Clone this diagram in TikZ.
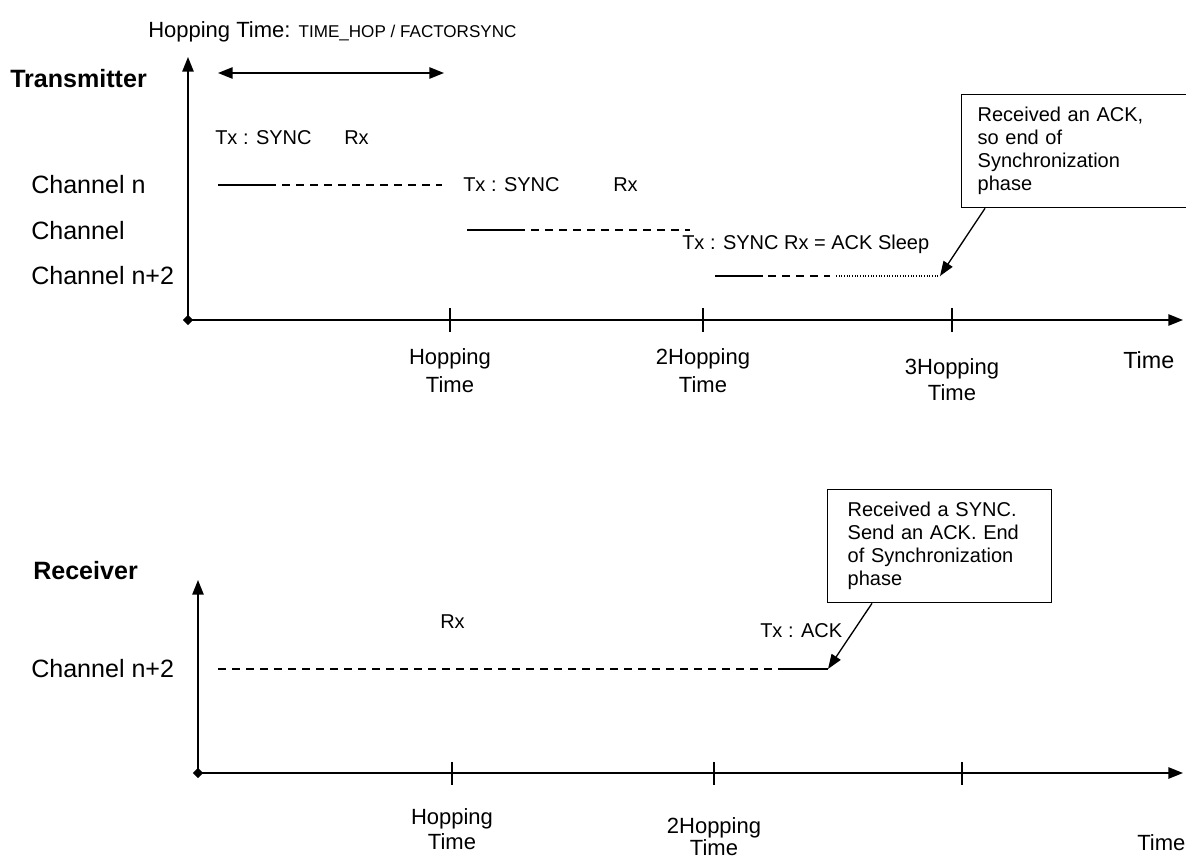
\documentclass[tikz,border=0pt]{standalone}
\usepackage{fontspec}
\setmainfont{Liberation Sans}
\usetikzlibrary{arrows.meta,shapes.geometric,calc}
\newcommand\bigf{\fontsize{16.5}{21}\selectfont}
\newcommand\hugef{\fontsize{18.8}{22}\selectfont}
\newcommand\medf{\fontsize{15}{17.2}\selectfont}
\newcommand\smlf{\fontsize{12.8}{15}\selectfont}
\begin{document}
\begin{tikzpicture}[x=0.75pt,y=-0.75pt,
  axis/.style={line width=1.3pt,-{Triangle[length=11pt,width=8.5pt]}},
  tick/.style={line width=1pt},
  sig/.style={line width=1pt},
  dsh/.style={line width=1pt,dash pattern=on 6pt off 4.5pt},
  dot/.style={line width=0.8pt,dash pattern=on 0.8pt off 1.2pt},
  callout/.style={line width=1pt,-{Triangle[length=11pt,width=8pt]}},
  lbl/.style={anchor=base west,inner sep=0pt,font=\bigf},
  chl/.style={anchor=base west,inner sep=0pt,font=\hugef},
  tl/.style={anchor=base west,inner sep=0pt,font=\medf},
  ticklbl/.style={align=center,inner sep=0pt},
  box/.style={draw,line width=1pt,anchor=north west,align=left,font=\medf,inner ysep=0pt,minimum height=84.75pt},
  origin/.style={diamond,fill,inner sep=0pt,minimum size=8pt}
]
\useasboundingbox (0,0) rectangle (1186,860);

% ---------- title ----------
\node[lbl] (title) at (148,37) {Hopping Time: {\smlf TIME\_HOP / FACTORSYNC}};

% ---------- Transmitter ----------
\node[chl,font=\hugef\bfseries] (tr) at (10,87) {Transmitter};
\node[origin] (o1) at (188,320) {};
\coordinate (y1) at (188,57);
\coordinate (x1) at (1183,320);
\draw[axis] (o1.center) -- (y1);
\draw[axis] (o1.center) -- (x1);
\coordinate (ha) at (218,73);
\coordinate (hb) at (444,73);
\draw[line width=1.3pt,{Triangle[length=11pt,width=8.5pt]}-{Triangle[length=11pt,width=8.5pt]}] (ha) -- (hb);

\foreach \x/\n in {450/t1,703/t2,952/t3}{
  \coordinate (\n a) at (\x,308); \coordinate (\n b) at (\x,332);
  \draw[tick] (\n a) -- (\n b);
}
\node[ticklbl,font=\fontsize{16.5}{21}\selectfont] (l1) at (450,371) {Hopping\\Time};
\node[ticklbl,font=\fontsize{16.5}{21}\selectfont] (l2) at (703,371) {2Hopping\\Time};
\node[ticklbl,font=\fontsize{16.5}{19.5}\selectfont] (l3) at (952,380) {3Hopping\\Time};
\node[lbl,font=\fontsize{17.5}{21}\selectfont] (tm1) at (1123,368) {Time};

\node[chl] (c1) at (31,193) {Channel n};
\node[chl] (c2) at (31,239) {Channel};
\node[chl] (c3) at (31,284) {Channel n+2};

\node[tl] (tx1) at (215,144) {Tx : SYNC};
\node[tl] (rx1) at (344,144) {Rx};
\node[tl] (tx2) at (463,191) {Tx : SYNC};
\node[tl] (rx2) at (613,191) {Rx};
\node[tl] (tx3) at (682,249) {Tx : SYNC Rx = ACK Sleep};

\coordinate (a1) at (218,185); \coordinate (a2) at (268,185); \coordinate (a3) at (442,185);
\draw[sig] (a1) -- (a2); \draw[dsh] (a2) -- (a3);
\coordinate (b1) at (467,230); \coordinate (b2) at (517,230); \coordinate (b3) at (690,230);
\draw[sig] (b1) -- (b2); \draw[dsh] (b2) -- (b3);
\coordinate (d1) at (715,276); \coordinate (d2) at (763,276); \coordinate (d3) at (768,276);
\coordinate (d4) at (830,276); \coordinate (d5) at (836,276); \coordinate (d6) at (940,276);
\draw[sig] (d1) -- (d2); \draw[dsh] (d3) -- (d4); \draw[dot] (d5) -- (d6);

\node[box,text width=165pt,inner xsep=12pt] (box1) at (961,94)
  {Received an ACK,\\so end of\\Synchronization\\phase};
\draw[callout] ($(box1.south west)+(24,0)$) -- (d6);

% ---------- Receiver ----------
\node[chl,font=\hugef\bfseries] (rc) at (33,579) {Receiver};
\node[origin] (o2) at (198,773) {};
\coordinate (y2) at (198,580);
\coordinate (x2) at (1183,773);
\draw[axis] (o2.center) -- (y2);
\draw[axis] (o2.center) -- (x2);
\foreach \x/\n in {452/u1,714/u2,962/u3}{
  \coordinate (\n a) at (\x,762); \coordinate (\n b) at (\x,785);
  \draw[tick] (\n a) -- (\n b);
}
\node[ticklbl,font=\fontsize{16.5}{18.75}\selectfont] (m1) at (452,829) {Hopping\\Time};
\node[ticklbl,font=\fontsize{16.5}{16.5}\selectfont] (m2) at (714,837) {2Hopping\\Time};
\node[lbl] (tm2) at (1137,850) {Time};

\node[chl] (c4) at (31,677) {Channel n+2};
\node[tl] (rx4) at (440,628) {Rx};
\node[tl] (tx4) at (760,637) {Tx : ACK};

\coordinate (e1) at (218,669); \coordinate (e2) at (785,669); \coordinate (e3) at (828,669);
\draw[dsh] (e1) -- (e2); \draw[sig] (e2) -- (e3);

\node[box,text width=138pt,inner xsep=15pt] (box2) at (827,489)
  {Received a SYNC.\\Send an ACK. End\\of Synchronization\\phase};
\draw[callout] ($(box2.south west)+(45,0)$) -- (e3);
\end{tikzpicture}
\end{document}
